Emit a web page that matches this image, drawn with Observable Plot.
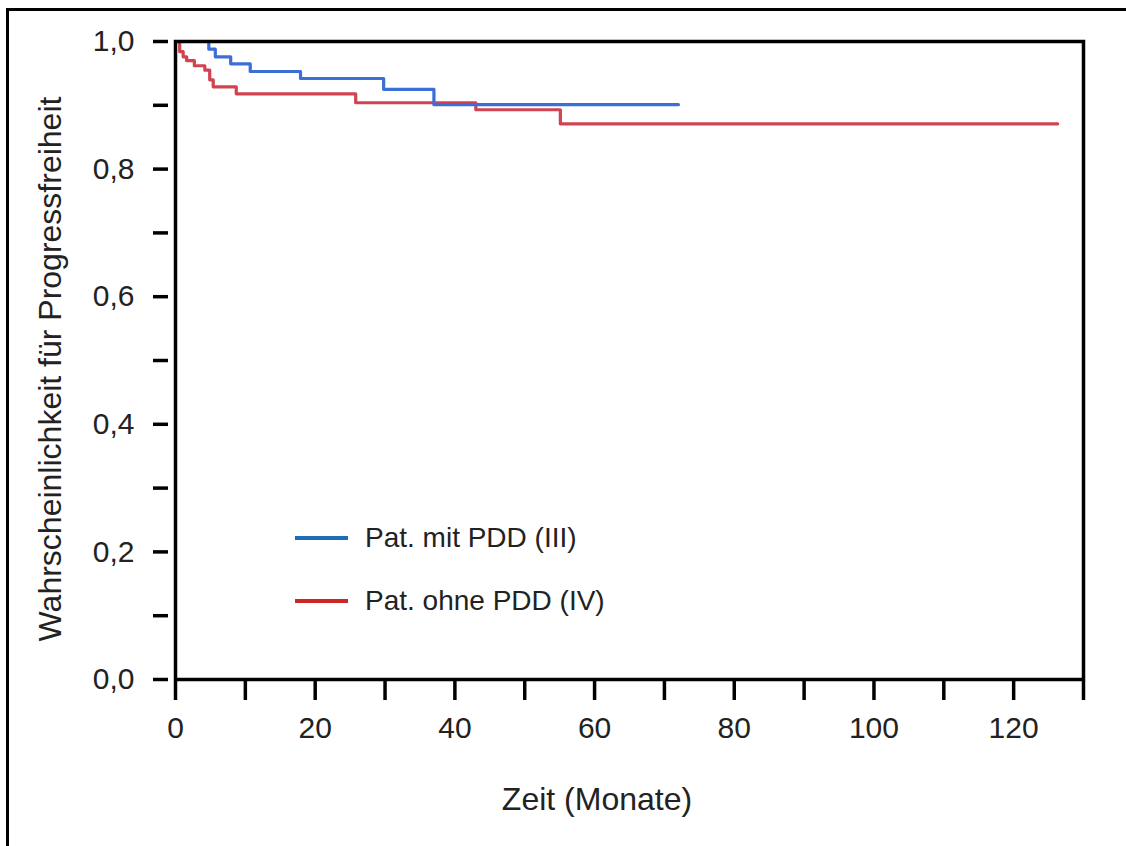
<!DOCTYPE html>
<html>
<head>
<meta charset="utf-8">
<script src="https://cdn.jsdelivr.net/npm/d3@7"></script>
<script src="https://cdn.jsdelivr.net/npm/@observablehq/plot@0.6"></script>
<style>
  html, body { margin: 0; padding: 0; background: #fff; overflow: hidden; }
  #wrap { position: relative; width: 1126px; height: 846px; font-family: "Liberation Sans", Arial, sans-serif; color: #222; }
  #outer { position: absolute; left: 6px; top: 8px; width: 3000px; height: 3000px; border-left: 3px solid #000; border-top: 3px solid #000; }
  #chart { position: absolute; left: 0; top: 0; }
  .xlabel { position: absolute; top: 781px; left: 0; width: 1194px; text-align: center; font-size: 32px; }
  .ylabel { position: absolute; left: 50px; top: 369px; transform: translate(-50%, -50%) rotate(-90deg); white-space: nowrap; font-size: 32px; }
  .legend { position: absolute; left: 295px; font-size: 28px; display: flex; align-items: center; white-space: nowrap; }
  .legend .sw { width: 53px; height: 4px; margin-right: 17px; }
</style>
</head>
<body>
<div id="wrap">
  <div id="outer"></div>
  <div id="chart"></div>
  <div class="xlabel">Zeit (Monate)</div>
  <div class="ylabel">Wahrscheinlichkeit für Progressfreiheit</div>
  <div class="legend" style="top:522px"><div class="sw" style="background:#1f6db8"></div><span>Pat. mit PDD (III)</span></div>
  <div class="legend" style="top:585px"><div class="sw" style="background:#cc2626"></div><span>Pat. ohne PDD (IV)</span></div>
</div>
<script>
// Kaplan-Meier step data (time in months, survival probability)
const seriesNames = ["Pat. mit PDD (III)", "Pat. ohne PDD (IV)"];
const mitTime = [0, 4.77, 5.7, 7.9, 10.7, 17.9, 29.8, 37.0, 72.0];
const mitSurv = [1.0, 0.988, 0.976, 0.965, 0.953, 0.942, 0.925, 0.901, 0.901];
const ohneTime = [0, 0.6, 1.1, 1.6, 2.7, 4.2, 4.9, 5.4, 8.7, 25.8, 43.0, 55.1, 126.3];
const ohneSurv = [1.0, 0.984, 0.976, 0.970, 0.962, 0.955, 0.940, 0.929, 0.918, 0.904, 0.893, 0.871, 0.871];
const xTicks = [0, 10, 20, 30, 40, 50, 60, 70, 80, 90, 100, 110, 120, 130];
const xTickLabels = ["0", "", "20", "", "40", "", "60", "", "80", "", "100", "", "120", ""];
const yTicks = [0, 0.1, 0.2, 0.3, 0.4, 0.5, 0.6, 0.7, 0.8, 0.9, 1.0];
const yTickLabels = ["0,0", "", "0,2", "", "0,4", "", "0,6", "", "0,8", "", "1,0"];

const mit = mitTime.map((t, i) => ({t, s: mitSurv[i], g: seriesNames[0]}));
const ohne = ohneTime.map((t, i) => ({t, s: ohneSurv[i], g: seriesNames[1]}));

const chart = Plot.plot({
  width: 1126,
  height: 846,
  marginLeft: 175,
  marginRight: 43,
  marginTop: 41,
  marginBottom: 167,
  style: {fontFamily: "'Liberation Sans', Arial, sans-serif", fontSize: "29px", color: "#222", background: "transparent", overflow: "visible"},
  x: {domain: [0, 130]},
  y: {domain: [0, 1]},
  marks: [
    Plot.line(ohne, {x: "t", y: "s", curve: "step-after", stroke: "#d0434f", strokeWidth: 3.2}),
    Plot.line(mit, {x: "t", y: "s", curve: "step-after", stroke: "#3b6ed6", strokeWidth: 3.2}),
    Plot.frame({stroke: "#000", strokeWidth: 3.5}),
    Plot.axisY({ticks: yTicks, tickFormat: (d) => yTickLabels[yTicks.findIndex(v => Math.abs(v - d) < 1e-9)], tickSize: 15, tickPadding: 19, dx: -7, strokeWidth: 3.5, stroke: "#000", label: null, fontSize: 30}),
    Plot.axisX({ticks: xTicks, tickFormat: d => xTickLabels[xTicks.indexOf(d)], tickSize: 19, tickPadding: 16, dy: 2, strokeWidth: 3.5, stroke: "#000", label: null, fontSize: 30})
  ]
});
document.getElementById("chart").appendChild(chart);
</script>
</body>
</html>
